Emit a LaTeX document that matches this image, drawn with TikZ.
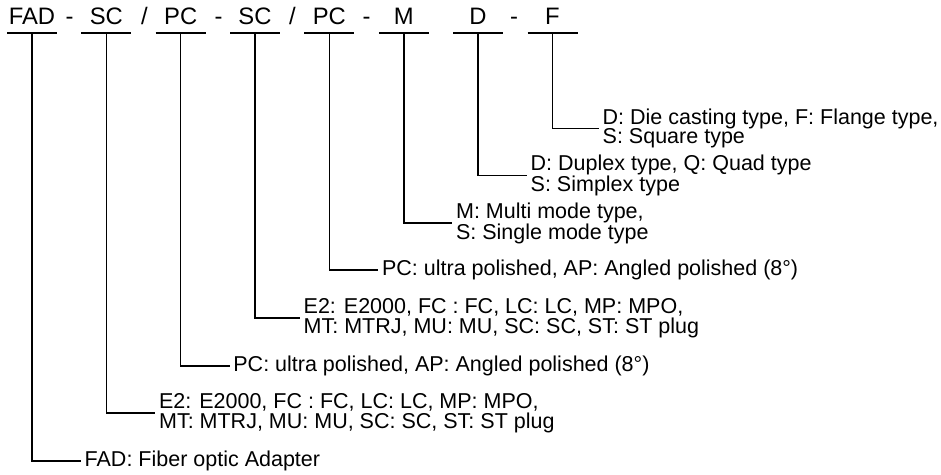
\documentclass[tikz,border=0pt]{standalone}
\usepackage{fontspec}
\setmainfont{Liberation Sans}
\begin{document}
\begin{tikzpicture}[x=1pt,y=1pt,
  conn/.style={line width=1.4pt,line join=miter},
  head/.style={anchor=base,inner sep=0pt,font=\fontsize{23.8}{26}\selectfont},
  lab/.style={anchor=west,inner xsep=3.5pt,inner ysep=0pt,align=left,font=\fontsize{21.5}{19.6}\selectfont}]
\useasboundingbox (0,0) rectangle (941,474);
% header texts
\foreach \i/\x/\t in {1/32/FAD,2/106.4/SC,3/180.7/PC,4/255/SC,5/329.4/PC,6/403.8/M,7/478/D,8/552.5/F}{
  \node[head] (h\i) at (\x,449) {\t};
  \coordinate (t\i) at (\x,441);
  \coordinate (ul\i) at (\x-25,441);
  \coordinate (ur\i) at (\x+25,441);
  \draw[conn] (ul\i) -- (ur\i);
}
\node[head] (s1) at (69.5,449) {-};
\node[head] (s2) at (144.5,449) {/};
\node[head] (s3) at (218.5,449) {-};
\node[head] (s4) at (292.5,449) {/};
\node[head] (s5) at (366.5,449) {-};
\node[head] (s6) at (514,449) {-};
% labels
\node[lab] (l1) at (81,13) {FAD: Fiber optic Adapter};
\node[lab] (l2) at (155.4,61) {E2: E2000, FC : FC, LC: LC, MP: MPO,\\MT: MTRJ, MU: MU, SC: SC, ST: ST plug};
\node[lab] (l3) at (229.7,108) {PC: ultra polished, AP: Angled polished (8°)};
\node[lab] (l4) at (300,156) {E2: E2000, FC : FC, LC: LC, MP: MPO,\\MT: MTRJ, MU: MU, SC: SC, ST: ST plug};
\node[lab] (l5) at (378.4,204) {PC: ultra polished, AP: Angled polished (8°)};
\node[lab] (l6) at (452.4,251) {M: Multi mode type,\\S: Single mode type};
\node[lab] (l7) at (527,298.5) {D: Duplex type, Q: Quad type\\S: Simplex type};
\node[lab] (l8) at (599,345.5) {D: Die casting type, F: Flange type,\\S: Square type};
\foreach \i in {1,...,8}{
  \draw[conn] (t\i) |- (l\i.west);
}
\end{tikzpicture}
\end{document}
